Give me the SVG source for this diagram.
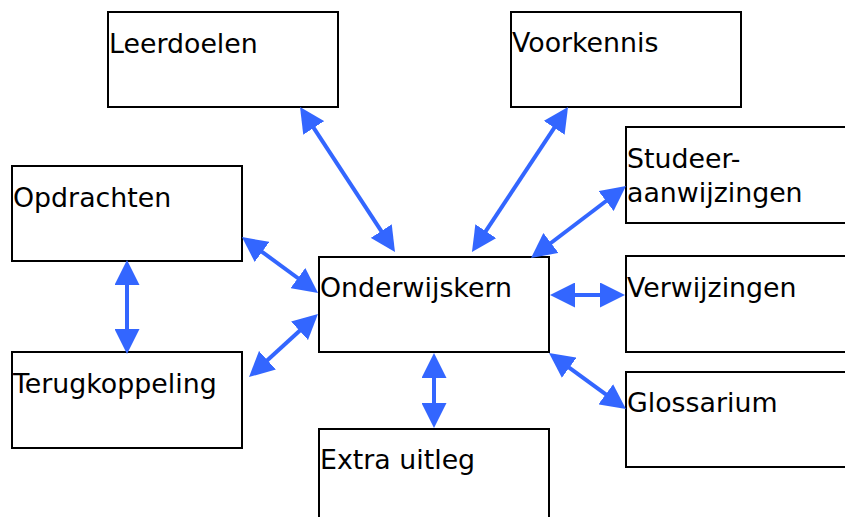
<svg xmlns="http://www.w3.org/2000/svg" width="845" height="517" viewBox="0 0 845 517">
<style>
.box{fill:#fff;stroke:#000;stroke-width:2}
.lbl{font-family:"DejaVu Sans",Verdana,sans-serif;font-size:26.8px;fill:#000}
.con{stroke:#3366ff;stroke-width:4;fill:none;marker-start:url(#ah);marker-end:url(#ah)}
</style>
<defs>
<marker id="ah" markerUnits="userSpaceOnUse" markerWidth="25" markerHeight="25" refX="15" refY="12.5" orient="auto-start-reverse">
<path d="M0,0 L25,12.5 L0,25 z" fill="#3366ff"/>
</marker>
</defs>
<rect width="845" height="517" fill="#fff"/>
<g id="leerdoelen"><rect class="box" x="108" y="12" width="230" height="95"/><text class="lbl" x="109" y="53">Leerdoelen</text></g>
<g id="voorkennis"><rect class="box" x="511" y="12" width="230" height="95"/><text class="lbl" x="512" y="52">Voorkennis</text></g>
<g id="studeeraanwijzingen"><rect class="box" x="626" y="127" width="230" height="96"/><text class="lbl" x="627" y="168">Studeer-</text><text class="lbl" x="627" y="202">aanwijzingen</text></g>
<g id="opdrachten"><rect class="box" x="12" y="166" width="230" height="95"/><text class="lbl" x="13" y="207">Opdrachten</text></g>
<g id="onderwijskern"><rect class="box" x="319" y="257" width="230" height="95"/><text class="lbl" x="320" y="297">Onderwijskern</text></g>
<g id="verwijzingen"><rect class="box" x="626" y="256" width="230" height="96"/><text class="lbl" x="627" y="297">Verwijzingen</text></g>
<g id="terugkoppeling"><rect class="box" x="12" y="352" width="230" height="96"/><text class="lbl" x="13" y="393">Terugkoppeling</text></g>
<g id="glossarium"><rect class="box" x="626" y="372" width="230" height="95"/><text class="lbl" x="627" y="412">Glossarium</text></g>
<g id="extrauitleg"><rect class="box" x="319" y="429" width="230" height="100"/><text class="lbl" x="320" y="469">Extra uitleg</text></g>
<g id="connectors">
<line class="con" x1="305.5" y1="115.4" x2="389.5" y2="243.6"/>
<line class="con" x1="562.5" y1="115.3" x2="477.5" y2="243.7"/>
<line class="con" x1="618" y1="192" x2="539" y2="252"/>
<line class="con" x1="560" y1="295" x2="615" y2="295"/>
<line class="con" x1="557.1" y1="358.9" x2="617.9" y2="403.1"/>
<line class="con" x1="250" y1="243" x2="310" y2="287"/>
<line class="con" x1="310.6" y1="320.7" x2="256.4" y2="370.3"/>
<line class="con" x1="127" y1="270" x2="127" y2="344"/>
<line class="con" x1="434" y1="363" x2="434" y2="418"/>
</g>
</svg>
